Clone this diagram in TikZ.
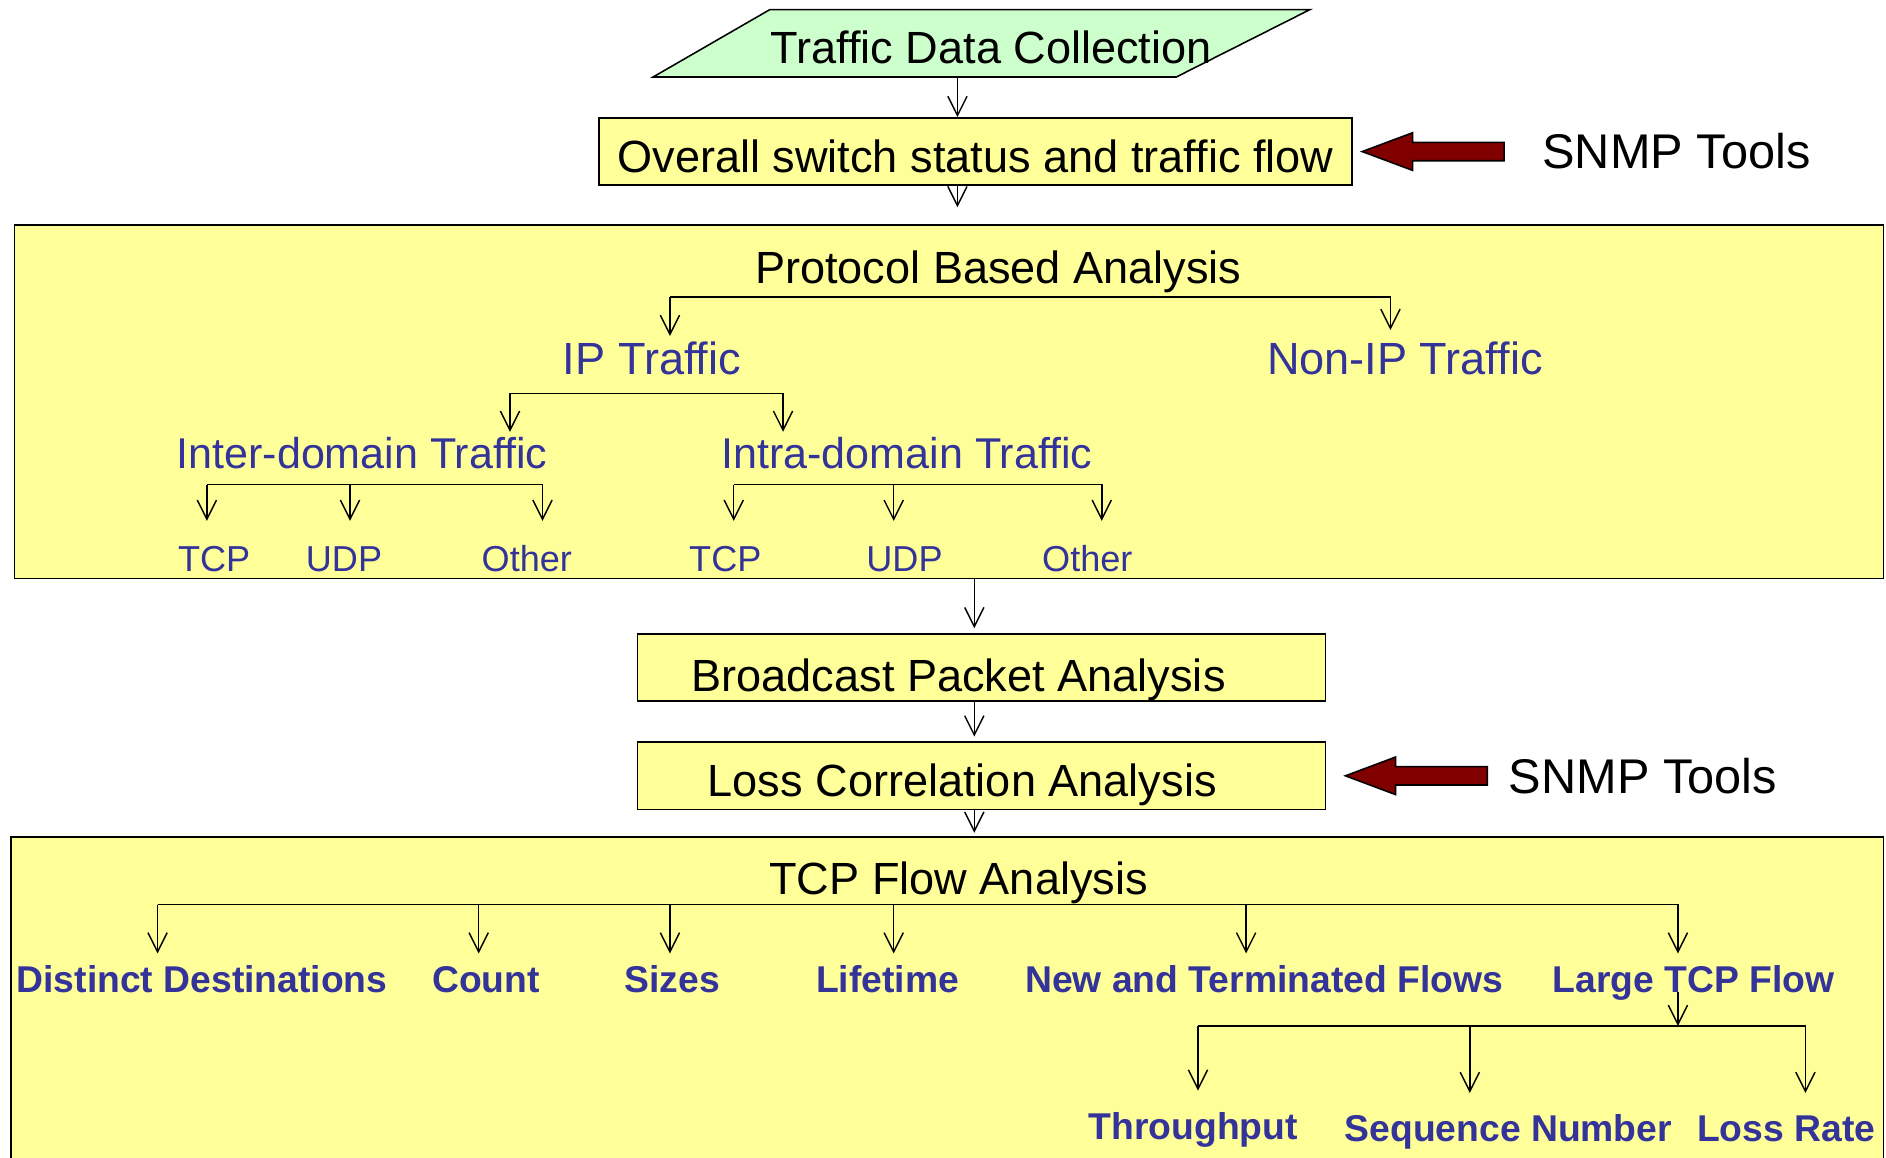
\documentclass[tikz,border=0pt]{standalone}
\usepackage{fontspec}
\setmainfont{Liberation Sans}
\usetikzlibrary{arrows.meta,positioning,shapes.arrows}

\definecolor{boxyellow}{HTML}{FFFF99}
\definecolor{datagreen}{HTML}{CCFFCC}
\definecolor{labelblue}{HTML}{333399}
\definecolor{arrowred}{HTML}{800000}

\tikzset{
  big/.style={font=\fontsize{37.5}{45}\selectfont},
  stage/.style={big, draw, fill=boxyellow, line width=1.3pt, inner sep=0pt,
    text height=35pt, text depth=0pt},
  panel/.style={draw, fill=boxyellow, line width=1.3pt, inner sep=0pt},
  title/.style={big, inner sep=0pt, text height=27pt, text depth=0pt},
  tooltitle/.style={title, font=\fontsize{40.5}{48}\selectfont, text height=29pt},
  kind/.style={big, text=labelblue, inner xsep=0pt, inner ysep=5pt,
    text height=27pt, text depth=0pt},
  domainlabel/.style={kind, font=\fontsize{35.8}{43}\selectfont, text height=25.6pt},
  leaf/.style={kind, font=\fontsize{30}{36}\selectfont, inner ysep=20pt,
    text height=21.5pt},
  metric/.style={kind, font=\fontsize{31}{37}\selectfont\bfseries, inner ysep=10pt,
    text height=22.2pt},
  link/.style={-{Straight Barb[length=16pt,width=16pt]}, line width=1.2pt},
  snmparrow/.style={single arrow, draw, fill=arrowred, line width=1.3pt,
    shape border rotate=180, minimum height=118pt, minimum width=30pt,
    single arrow head extend=8pt, single arrow tip angle=41,
    inner sep=0pt, text height=14pt, text depth=0pt}
}

\begin{document}
\begin{tikzpicture}[x=1pt, y=-1pt]
    \path[use as bounding box, clip] (0,0) rectangle (1568,962);
    \coordinate (spine) at (796,0);
    \coordinate (spinelow) at (810,0);

    % collection and overall status
    \draw[fill=datagreen, line width=1.3pt]
        (543,64) -- (640,8) -- (1089,8) -- (978,64) -- cycle;
    \node[title] (tdc) at (824,39) {Traffic Data Collection};
    \coordinate (tdcfoot) at (796,64);
    \node[stage, minimum width=626pt, minimum height=56pt] (ovr) at (811,126)
        {Overall switch status and traffic flow};
    \node[snmparrow, right=6pt of ovr] (arrowA) {};
    \node[tooltitle, right=31pt of arrowA] (snmpA) {SNMP Tools};

    % protocol based analysis
    \node[panel, minimum width=1554pt, minimum height=294pt] (proto) at (789,334) {};
    \node[title] (pba) at (830,222) {Protocol Based Analysis};
    \node[kind] (ip) at (542,298) {IP Traffic};
    \node[kind] (nonip) at (1168,298) {Non-IP Traffic};
    \node[domainlabel] (inter) at (301,377) {Inter-domain Traffic};
    \node[domainlabel] (intra) at (754,377) {Intra-domain Traffic};
    \node[leaf] (itcp) at (178,464) {TCP};
    \node[leaf] (iudp) at (286,464) {UDP};
    \node[leaf] (ioth) at (438,464) {Other};
    \node[leaf] (atcp) at (603,464) {TCP};
    \node[leaf] (audp) at (752,464) {UDP};
    \node[leaf] (aoth) at (904,464) {Other};

    \coordinate (pbar) at (557,247);
    \draw[link] (pbar) -| ([xshift=15pt]ip.north);
    \draw[link] (pbar) -| ([xshift=-12pt, yshift=5pt]nonip.north);
    \coordinate (ipbar) at (424,327);
    \draw[link] (ipbar) -| ([xshift=123pt]inter.north);
    \draw[link] (ipbar) -| ([xshift=-103pt]intra.north);
    \coordinate (ibar) at (172,403);
    \foreach \n/\dx in {itcp/-6, iudp/5, ioth/13}
        \draw[link] (ibar) -| ([xshift=\dx pt]\n.north);
    \coordinate (abar) at (610,403);
    \foreach \n/\dx in {atcp/7, audp/-9, aoth/12}
        \draw[link] (abar) -| ([xshift=\dx pt]\n.north);

    % broadcast and loss correlation
    \node[stage, minimum width=572pt, minimum height=56pt] (bpa) at (816,555) {};
    \node[title] (bpatxt) at ([xshift=-19pt, yshift=-6pt]bpa.center)
        {Broadcast Packet Analysis};
    \node[stage, minimum width=572pt, minimum height=56pt] (lca) at (816,645) {};
    \node[title] (lcatxt) at ([xshift=-16pt, yshift=-4pt]lca.center)
        {Loss Correlation Analysis};
    \node[snmparrow, right=14pt of lca] (arrowB) {};
    \node[tooltitle, right=17pt of arrowB] (snmpB) {SNMP Tools};

    % tcp flow analysis
    \node[panel, minimum width=1557pt, minimum height=290pt] (tcp) at (787.5,841) {};
    \node[title] (tfa) at (797,730) {TCP Flow Analysis};
    \node[metric] (dest) at (168,814) {Distinct Destinations};
    \node[metric] (count) at (404,814) {Count};
    \node[metric] (sizes) at (559,814) {Sizes};
    \node[metric] (life) at (738,814) {Lifetime};
    \node[metric] (newflow) at (1051,814) {New and Terminated Flows};
    \node[metric] (large) at (1408,814) {Large TCP Flow};
    \node[metric] (thru) at (992,936) {Throughput};
    \node[metric] (seqno) at (1254,938) {Sequence Number};
    \node[metric] (lrate) at (1485,938) {Loss Rate};

    \coordinate (fbar) at (131,752);
    \foreach \n/\dx in {dest/-37, count/-6, sizes/-2, life/5, newflow/-15, large/-13}
        \draw[link] (fbar) -| ([xshift=\dx pt]\n.north);
    \coordinate (sbar) at (996,853);
    \draw[link] ([xshift=-13pt]large.base) -- ([xshift=-13pt]large.base |- sbar);
    \foreach \n/\dx in {thru/4, seqno/-32, lrate/16}
        \draw[link, shorten >=8pt] (sbar) -| ([xshift=\dx pt]\n.north);

    % main column
    \draw[link] (tdcfoot) -- (ovr.north -| spine);
    \draw[link, shorten >=14pt] (ovr.south -| spine) -- (proto.north -| spine);
    \draw[link, shorten >=4pt] (proto.south -| spinelow) -- (bpa.north -| spinelow);
    \draw[link, shorten >=4pt] (bpa.south -| spinelow) -- (lca.north -| spinelow);
    \draw[link, shorten >=3pt] (lca.south -| spinelow) -- (tcp.north -| spinelow);
\end{tikzpicture}
\end{document}
